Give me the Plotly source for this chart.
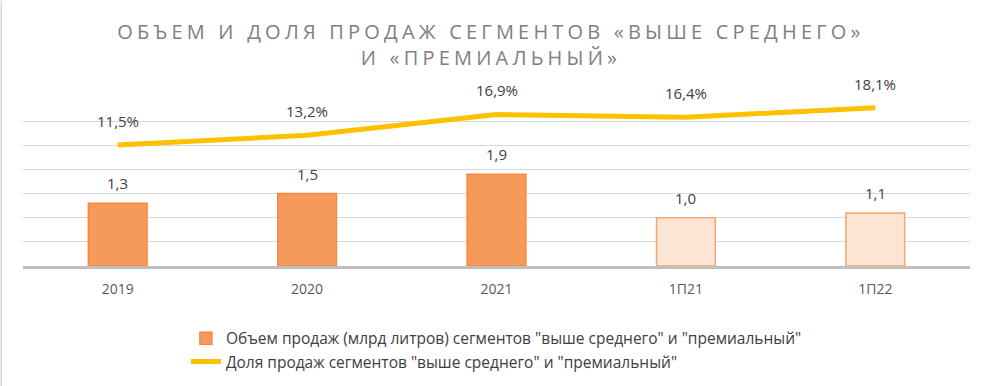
import plotly.graph_objects as go

categories = ["2019", "2020", "2021", "1П21", "1П22"]
volume = [1.3, 1.5, 1.9, 1.0, 1.1]
share = [0.115, 0.132, 0.169, 0.164, 0.181]
striped = [True, True, True, False, False]

vol_name = 'Объем продаж (млрд литров) сегментов "выше среднего" и "премиальный"'
share_name = 'Доля продаж сегментов "выше среднего" и "премиальный"'
title_text = "ОБЪЕМ И ДОЛЯ ПРОДАЖ СЕГМЕНТОВ «ВЫШЕ СРЕДНЕГО»<br>И «ПРЕМИАЛЬНЫЙ»"

FONT = "Open Sans"
TXT = "#404040"

bar_colors = ["#f69a5c" if s else "#fde5d6" for s in striped]
bar_lines = ["#f48a40" if s else "#f4a76f" for s in striped]

fig = go.Figure()
fig.add_trace(go.Bar(
    x=categories, y=volume, name=vol_name, width=0.31,
    marker=dict(color=bar_colors, line=dict(color=bar_lines, width=1.5)),
    hoverinfo="skip",
))
fig.add_trace(go.Scatter(
    x=categories, y=share, name=share_name, yaxis="y2", mode="lines",
    line=dict(color="#ffc000", width=5), hoverinfo="skip",
))

# annotations placed by category index (avoids numeric-looking category names)
for i, v in enumerate(volume):
    fig.add_annotation(x=i, y=v, xref="x", yref="y", text=f"{v:.1f}".replace(".", ","),
                       showarrow=False, yshift=20, font=dict(family=FONT, size=15, color=TXT))
for i, s in enumerate(share):
    fig.add_annotation(x=i, y=s, xref="x", yref="y2", text=f"{s*100:.1f}%".replace(".", ","),
                       showarrow=False, yshift=24, font=dict(family=FONT, size=15, color=TXT))

fig.update_layout(
    width=990, height=386,
    margin=dict(l=23, r=20, t=97, b=120, autoexpand=False),
    paper_bgcolor="white", plot_bgcolor="white",
    separators=", ",
    title=dict(
        text=f'<span style="letter-spacing:4.2px">{title_text}</span>',
        x=0.496, xanchor="center", y=0.899, yanchor="top",
        font=dict(family=FONT, size=20, color="#808080"),
    ),
    xaxis=dict(
        type="category", categoryorder="array", categoryarray=categories,
        range=[-0.5, len(categories) - 0.5],
        showgrid=False, showline=True, linecolor="#bfbfbf", linewidth=3,
        tickfont=dict(family=FONT, size=14, color="#595959"), ticks="", ticklabelstandoff=8,
    ),
    yaxis=dict(
        range=[0, 3.5], dtick=0.5, showgrid=True, gridcolor="#d9d9d9", gridwidth=1,
        showticklabels=False, zeroline=False, automargin=False,
    ),
    yaxis2=dict(
        range=[-0.10, 0.20], overlaying="y", side="right", showgrid=False,
        showticklabels=False, zeroline=False, automargin=False,
    ),
    showlegend=True,
    legend=dict(
        orientation="v", x=0.172, xanchor="left", y=-0.33, yanchor="top",
        font=dict(family=FONT, size=15.5, color=TXT), tracegroupgap=0,
        itemwidth=30,
    ),
)
fig.add_shape(type="line", xref="paper", yref="paper", x0=-0.023, x1=-0.023, y0=-0.71, y1=1.57,
              line=dict(color="#d9d9d9", width=1.5))

fig.write_html("out.html", config={"displayModeBar": False},
               post_script="document.body.style.margin='0';")
